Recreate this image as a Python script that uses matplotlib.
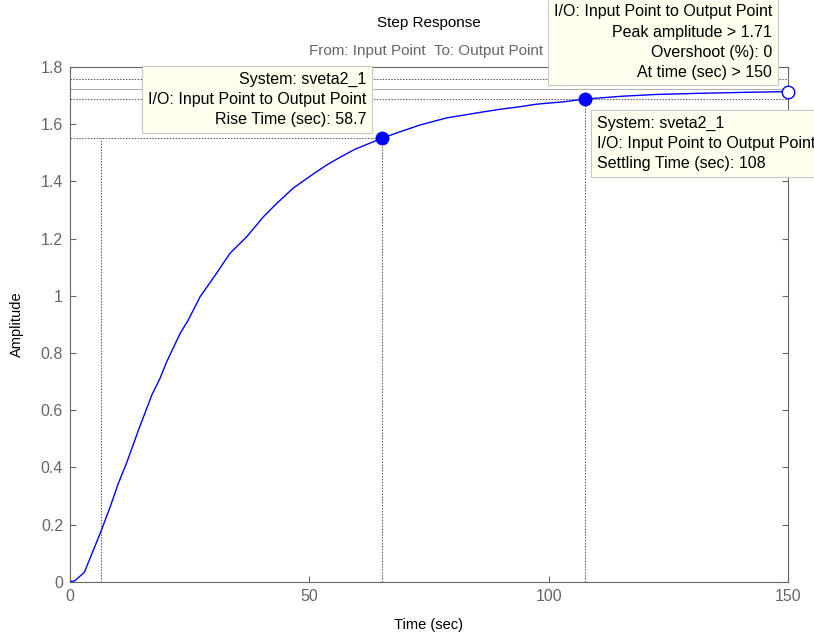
import matplotlib.pyplot as plt
import numpy as np

plt.rcParams['font.family'] = ['Liberation Sans', 'DejaVu Sans']

# step response
t = [0, 1, 3, 6.3, 8.4, 10.1, 11.8, 14.3, 17.1, 18.8, 20.2, 23.0, 24.7, 27.2,
     30.6, 33.4, 36.9, 40.4, 43.2, 46.6, 50.5, 53.6, 56.4, 59.5, 65.2, 68.9,
     73.1, 78.7, 85.6, 89.8, 94.0, 97.5, 103.0, 107.6, 115.6, 122.6, 131.6,
     140.0, 150]
amp = [0, 0.003, 0.033, 0.169, 0.262, 0.344, 0.414, 0.530, 0.653, 0.711,
       0.769, 0.868, 0.915, 0.997, 1.078, 1.148, 1.206, 1.276, 1.323, 1.376,
       1.422, 1.457, 1.484, 1.512, 1.551, 1.573, 1.597, 1.622, 1.641, 1.652,
       1.661, 1.670, 1.678, 1.688, 1.698, 1.704, 1.708, 1.711, 1.714]

# characteristics
rise_lo = (6.5, 0.172)
rise_hi = (65.2, 1.551)
settle = (107.6, 1.688)
peak = (150, 1.714)
final_value = 1.722
band_hi = 1.757
band_lo = 1.688

xticks = [0, 50, 100, 150]
yticks = [0, 0.2, 0.4, 0.6, 0.8, 1.0, 1.2, 1.4, 1.6, 1.8]
ytick_labels = ['0', '0.2', '0.4', '0.6', '0.8', '1', '1.2', '1.4', '1.6', '1.8']

gray = '#666666'
tipface = '#FFFFEE'

fig = plt.figure(figsize=(8.14, 6.32), dpi=100)
ax = fig.add_axes([0.086, 0.0796, 0.882, 0.8144])

dot = dict(color='#555555', lw=0.7, ls=(0, (1.5, 1.5)), zorder=1)

# settling band + final value
ax.axhline(band_hi, **dot)
ax.axhline(band_lo, **dot)
ax.axhline(final_value, color='#b0b0b0', lw=0.8, zorder=1)

# rise time lines
ax.plot([0, rise_hi[0]], [rise_hi[1], rise_hi[1]], **dot)
ax.plot([rise_hi[0], rise_hi[0]], [0, rise_hi[1]], **dot)
ax.plot([rise_lo[0], rise_lo[0]], [0, rise_hi[1]], **dot)

# settling vertical
ax.plot([settle[0], settle[0]], [0, settle[1]], **dot)

# response
ax.plot(t, amp, color='#0000FF', lw=1.0, zorder=3)

# markers
ax.plot(*rise_hi, 'o', ms=9, color='#0000FF', zorder=4, clip_on=False)
ax.plot(*settle, 'o', ms=9, color='#0000FF', zorder=4, clip_on=False)
ax.plot(*peak, 'o', ms=9, mfc='white', mec='#0000FF', mew=1.0, zorder=4, clip_on=False)

ax.set_xlim(0, 150)
ax.set_ylim(0, 1.8)
ax.set_xticks(xticks)
ax.set_xticklabels([str(v) for v in xticks])
ax.set_yticks(yticks)
ax.set_yticklabels(ytick_labels)
ax.tick_params(direction='in', length=4, width=0.8, color=gray, labelcolor=gray,
               labelsize=11.5, top=True, right=True, pad=5)
for s in ax.spines.values():
    s.set_color(gray)
    s.set_linewidth(0.8)

ax.set_xlabel('Time (sec)', fontsize=10.5, labelpad=10)
ax.set_ylabel('Amplitude', fontsize=10.5, labelpad=12)

fig.text(0.527, 0.963, 'Step Response', ha='center', va='center', fontsize=11)
fig.text(0.523, 0.92, 'From: Input Point  To: Output Point', ha='center',
         va='center', fontsize=11, color=gray)

box = dict(boxstyle='square,pad=0.35', fc=tipface, ec='#c8c8c8', lw=0.8)
tip = dict(xycoords='data', textcoords='offset pixels', fontsize=11.5,
           bbox=box, zorder=10, linespacing=1.42, annotation_clip=False)

ax.annotate('System: sveta2_1\nI/O: Input Point to Output Point\n'
            'Rise Time (sec): 58.7',
            xy=rise_hi, xytext=(-16, 11), ha='right', va='bottom',
            multialignment='right', **tip)
ax.annotate('System: sveta2_1\nI/O: Input Point to Output Point\n'
            'Peak amplitude > 1.71\nOvershoot (%): 0\nAt time (sec) > 150',
            xy=peak, xytext=(-16, 12), ha='right', va='bottom',
            multialignment='right', **tip)
ax.annotate('System: sveta2_1\nI/O: Input Point to Output Point\n'
            'Settling Time (sec): 108',
            xy=settle, xytext=(12, -17), ha='left', va='top',
            multialignment='left', **tip)

plt.savefig('out.png', dpi=100)
